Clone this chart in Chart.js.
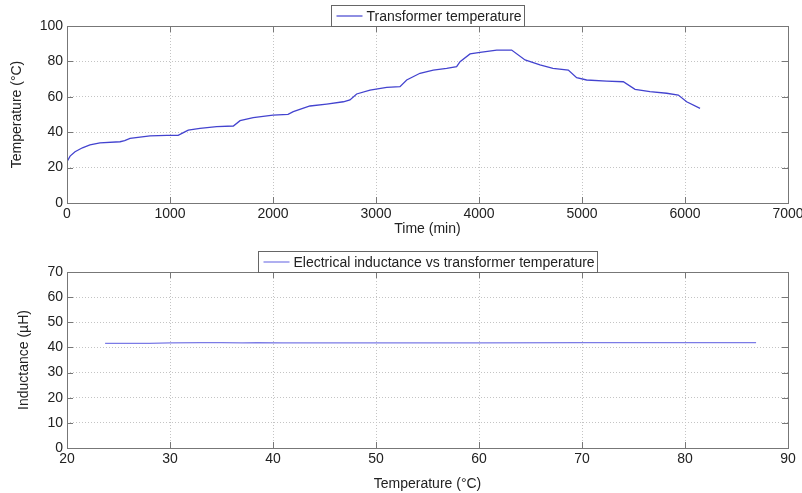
<!DOCTYPE html>
<html lang="en">
<head>
    <meta charset="UTF-8">
    <title>Transformer temperature</title>
    <script src="https://cdn.jsdelivr.net/npm/chart.js@4"></script>
    <style>
        body { margin: 0; background: #fff; }
        canvas { display: block; }
    </style>
</head>
<body>
    <canvas id="tempChart" width="802" height="240"></canvas>
    <canvas id="indChart" width="802" height="253"></canvas>
    <script>
        // top plot: temperature over time
        const timeMin = [0, 30, 78, 150, 223, 320, 515, 560, 612, 806, 968, 1079, 1130, 1177, 1291, 1453, 1615, 1680, 1808, 2000,
            2146, 2197, 2359, 2521, 2683, 2747, 2812, 2942, 3104, 3233, 3298, 3427, 3556, 3686, 3783, 3816, 3913, 4010, 4172, 4317,
            4447, 4592, 4718, 4867, 4948, 5045, 5240, 5401, 5515, 5660, 5822, 5935, 6016, 6146];
        const tempC = [23.3, 26.5, 29, 31.2, 32.8, 34, 34.6, 35.2, 36.5, 37.9, 38.2, 38.2, 39.8, 41.2, 42.2, 43.1, 43.5, 46.5, 48.2, 49.7,
            50.1, 51.6, 54.8, 55.9, 57.2, 58.2, 61.6, 63.8, 65.3, 65.7, 69.5, 73.3, 75.1, 76.1, 77, 79.8, 84.2, 85.1, 86.4, 86.4,
            80.8, 78, 76.1, 75.1, 70.8, 69.5, 68.9, 68.5, 64.2, 62.9, 62, 61, 57.2, 53.5];

        // bottom plot: inductance against temperature
        const indTemp = [23.7, 28, 30, 33, 35, 37, 38.5, 41, 44, 47, 50, 60, 70, 80, 86.9];
        const inductance = [41.6, 41.6, 41.8, 41.9, 41.9, 41.8, 41.9, 41.8, 41.8, 41.8, 41.8, 41.8, 41.9, 41.9, 41.9];

        const timeTicks = [0, 7000, 1000];
        const tempTicks = [0, 100, 20];
        const indTempTicks = [20, 90, 10];
        const indTicks = [0, 70, 10];

        const fuente = 'Liberation Sans, Arial, sans-serif';
        Chart.defaults.font.family = fuente;
        Chart.defaults.font.size = 14;
        Chart.defaults.color = '#222';

        // matlab style box, inward ticks and boxed legend
        const marco = {
            id: 'marco',
            afterDatasetsDraw(chart) {
                const { ctx, chartArea: a, scales } = chart;
                ctx.save();
                ctx.strokeStyle = '#777';
                ctx.lineWidth = 1;
                ctx.setLineDash([]);
                ctx.strokeRect(a.left + 0.5, a.top + 0.5, a.right - a.left, a.bottom - a.top);

                ctx.beginPath();
                scales.x.ticks.forEach(t => {
                    const px = Math.round(scales.x.getPixelForValue(t.value)) + 0.5;
                    ctx.moveTo(px, a.bottom); ctx.lineTo(px, a.bottom - 6);
                    ctx.moveTo(px, a.top); ctx.lineTo(px, a.top + 6);
                });
                scales.y.ticks.forEach(t => {
                    const py = Math.round(scales.y.getPixelForValue(t.value)) + 0.5;
                    ctx.moveTo(a.left, py); ctx.lineTo(a.left + 6, py);
                    ctx.moveTo(a.right, py); ctx.lineTo(a.right - 6, py);
                });
                ctx.stroke();

                const ds = chart.data.datasets[0];
                ctx.font = '14px ' + fuente;
                const tw = ctx.measureText(ds.label).width;
                const w = Math.round(tw + 38), h = 21;
                const x0 = Math.round((a.left + a.right) / 2 - w / 2) + 0.5;
                const y0 = a.top - h + 0.5;
                ctx.fillStyle = '#fff';
                ctx.fillRect(x0, y0, w, h);
                ctx.strokeStyle = '#666';
                ctx.strokeRect(x0, y0, w, h);
                ctx.strokeStyle = ds.borderColor;
                ctx.lineWidth = 1.2;
                ctx.beginPath();
                ctx.moveTo(x0 + 5, y0 + h / 2);
                ctx.lineTo(x0 + 31, y0 + h / 2);
                ctx.stroke();
                ctx.fillStyle = '#222';
                ctx.textBaseline = 'middle';
                ctx.fillText(ds.label, x0 + 35, y0 + h / 2 + 1);
                ctx.restore();
            }
        };

        function ejes(xr, yr, xTitulo, yTitulo, yTitPad, xTitPad, xAlto) {
            const grid = { color: '#c4c4c4', drawTicks: false };
            const border = { display: false, dash: [1, 2] };
            return {
                x: {
                    type: 'linear', min: xr[0], max: xr[1],
                    ticks: { stepSize: xr[2], padding: 3, maxRotation: 0, format: { useGrouping: false } },
                    grid: grid, border: border,
                    title: { display: true, text: xTitulo, padding: { top: 0, bottom: xTitPad } },
                    afterFit: s => {
                        s.height = xAlto;
                        // labels may hang past the box like in matlab
                        s.paddingLeft = 0;
                        s.paddingRight = 0;
                    }
                },
                y: {
                    min: yr[0], max: yr[1],
                    ticks: { stepSize: yr[2], padding: 4 },
                    grid: grid, border: border,
                    title: { display: true, text: yTitulo, padding: { top: yTitPad, bottom: 0 } },
                    afterFit: s => { s.width = 67; }
                }
            };
        }

        function graficar(id, xs, ys, etiqueta, color, grosor, xr, yr, xTitulo, yTitulo, yTitPad, xTitPad, xAlto, arriba) {
            const puntos = xs.map((x, i) => ({ x: x, y: ys[i] }));
            new Chart(document.getElementById(id), {
                type: 'line',
                data: {
                    datasets: [{
                        label: etiqueta,
                        data: puntos,
                        borderColor: color,
                        borderWidth: grosor,
                        pointRadius: 0,
                        tension: 0,
                        fill: false
                    }]
                },
                options: {
                    responsive: false,
                    animation: false,
                    layout: { padding: { top: arriba, right: 14, bottom: 0, left: 0 } },
                    plugins: { legend: { display: false }, tooltip: { enabled: false } },
                    scales: ejes(xr, yr, xTitulo, yTitulo, yTitPad, xTitPad, xAlto)
                },
                plugins: [marco]
            });
        }

        graficar('tempChart', timeMin, tempC, 'Transformer temperature', '#4343cf', 1.3,
            timeTicks, tempTicks, 'Time (min)', 'Temperature (°C)', 9, 2, 37, 26);
        graficar('indChart', indTemp, inductance, 'Electrical inductance vs transformer temperature', '#7b7be6', 1.2,
            indTempTicks, indTicks, 'Temperature (°C)', 'Inductance (µH)', 16, 0, 45, 32);
    </script>
</body>
</html>
